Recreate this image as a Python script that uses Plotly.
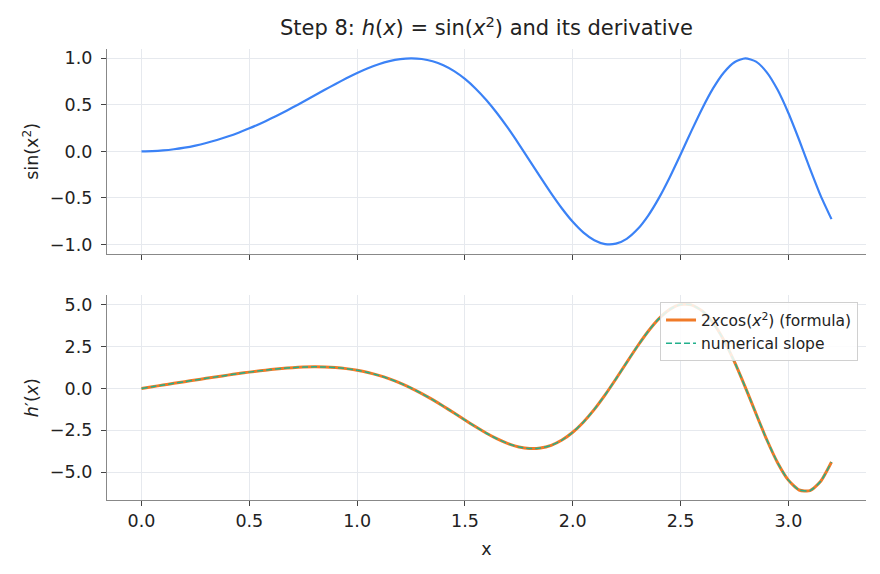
import plotly.graph_objects as go

x_vals = [0.00, 0.05, 0.10, 0.15, 0.20, 0.25, 0.30, 0.35, 0.40, 0.45,
          0.50, 0.55, 0.60, 0.65, 0.70, 0.75, 0.80, 0.85, 0.90, 0.95,
          1.00, 1.05, 1.10, 1.15, 1.20, 1.25, 1.30, 1.35, 1.40, 1.45,
          1.50, 1.55, 1.60, 1.65, 1.70, 1.75, 1.80, 1.85, 1.90, 1.95,
          2.00, 2.05, 2.10, 2.15, 2.20, 2.25, 2.30, 2.35, 2.40, 2.45,
          2.50, 2.55, 2.60, 2.65, 2.70, 2.75, 2.80, 2.85, 2.90, 2.95,
          3.00, 3.05, 3.10, 3.15, 3.20]

h_vals = [0.0000, 0.0025, 0.0100, 0.0225, 0.0400, 0.0625, 0.0899, 0.1222, 0.1593, 0.2011,
          0.2474, 0.2979, 0.3523, 0.4101, 0.4706, 0.5333, 0.5972, 0.6614, 0.7243, 0.7848,
          0.8415, 0.8923, 0.9356, 0.9693, 0.9915, 1.0000, 0.9929, 0.9685, 0.9252, 0.8620,
          0.7781, 0.6736, 0.5494, 0.4069, 0.2490, 0.0790, -0.0983, -0.2772, -0.4515, -0.6139,
          -0.7568, -0.8729, -0.9546, -0.9960, -0.9919, -0.9393, -0.8378, -0.6894, -0.4996, -0.2770,
          -0.0332, 0.2176, 0.4589, 0.6738, 0.8452, 0.9578, 0.9999, 0.9642, 0.8494, 0.6611,
          0.4121, 0.1220, -0.1842, -0.4774, -0.7279]

dh_formula = [0.000, 0.100, 0.200, 0.300, 0.400, 0.499, 0.598, 0.695, 0.790, 0.882,
              0.969, 1.050, 1.123, 1.186, 1.235, 1.269, 1.283, 1.275, 1.241, 1.178,
              1.081, 0.948, 0.777, 0.565, 0.313, 0.021, -0.309, -0.672, -1.063, -1.470,
              -1.885, -2.291, -2.674, -3.014, -3.293, -3.489, -3.583, -3.555, -3.391, -3.079,
              -2.615, -1.998, -1.251, -0.386, 0.560, 1.544, 2.512, 3.405, 4.158, 4.708,
              4.997, 4.978, 4.620, 3.916, 2.887, 1.581, 0.078, -1.512, -3.061, -4.427,
              -5.467, -6.054, -6.094, -5.536, -4.389]

dh_numeric = [0.000, 0.100, 0.200, 0.300, 0.400, 0.499, 0.598, 0.695, 0.790, 0.882,
              0.969, 1.050, 1.123, 1.186, 1.235, 1.269, 1.283, 1.275, 1.241, 1.178,
              1.081, 0.948, 0.777, 0.565, 0.313, 0.021, -0.309, -0.672, -1.063, -1.470,
              -1.885, -2.291, -2.674, -3.014, -3.293, -3.489, -3.583, -3.555, -3.391, -3.079,
              -2.615, -1.998, -1.251, -0.386, 0.560, 1.544, 2.512, 3.405, 4.158, 4.708,
              4.997, 4.978, 4.620, 3.916, 2.887, 1.581, 0.078, -1.512, -3.061, -4.427,
              -5.467, -6.054, -6.094, -5.536, -4.389]

x_ticks = [0.0, 0.5, 1.0, 1.5, 2.0, 2.5, 3.0]
x_tick_labels = ["0.0", "0.5", "1.0", "1.5", "2.0", "2.5", "3.0"]
top_ticks = [-1.0, -0.5, 0.0, 0.5, 1.0]
top_tick_labels = ["\u22121.0", "\u22120.5", "0.0", "0.5", "1.0"]
bot_ticks = [-5.0, -2.5, 0.0, 2.5, 5.0]
bot_tick_labels = ["\u22125.0", "\u22122.5", "0.0", "2.5", "5.0"]

FONT = "DejaVu Sans"
TXT = "#222222"
SPINE = "#888888"
GRID = "#e6e9ee"
TICKC = "#444444"
TICK_SIZE = 17.5

fig = go.Figure()
fig.add_trace(go.Scatter(x=x_vals, y=h_vals, mode="lines", line=dict(color="#3b82f6", width=2.2, shape="spline", smoothing=0.6),
                         showlegend=False, xaxis="x", yaxis="y"))
fig.add_trace(go.Scatter(x=x_vals, y=dh_formula, mode="lines",
                         name="2<i>x</i>cos(<i>x</i><sup>2</sup>) (formula)",
                         line=dict(color="#f07a28", width=3, shape="spline", smoothing=0.6),
                         xaxis="x2", yaxis="y2"))
fig.add_trace(go.Scatter(x=x_vals, y=dh_numeric, mode="lines", name="numerical slope",
                         line=dict(color="#22b08c", width=1.5, dash="6px,3px", shape="spline", smoothing=0.6),
                         xaxis="x2", yaxis="y2"))

common_x = dict(range=[-0.16, 3.36], tickvals=x_ticks, ticktext=x_tick_labels,
                showgrid=True, gridcolor=GRID, gridwidth=1, zeroline=False,
                showline=True, linecolor=SPINE, linewidth=1.3,
                ticks="outside", ticklen=5, tickwidth=1.3, tickcolor=TICKC,
                tickfont=dict(family=FONT, size=TICK_SIZE, color=TXT))
common_y = dict(showgrid=True, gridcolor=GRID, gridwidth=1, zeroline=False,
                showline=True, linecolor=SPINE, linewidth=1.3,
                ticks="outside", ticklen=5, tickwidth=1.3, tickcolor=TICKC,
                ticklabelstandoff=5,
                tickfont=dict(family=FONT, size=TICK_SIZE, color=TXT))

fig.update_layout(
    width=880, height=574,
    margin=dict(l=107, r=14, t=49, b=74),
    paper_bgcolor="white", plot_bgcolor="white",
    font=dict(family=FONT, size=TICK_SIZE, color=TXT),
    title=dict(text="Step 8: <i>h</i>(<i>x</i>) = sin(<i>x</i><sup>2</sup>) and its derivative",
               x=0.5, xref="paper", xanchor="center", y=1 - 28 / 574, yref="container", yanchor="middle",
               font=dict(family=FONT, size=21, color=TXT)),
    xaxis=dict(domain=[0, 1], anchor="y", showticklabels=False, **common_x),
    xaxis2=dict(domain=[0, 1], anchor="y2", matches="x",
                title=dict(text="x", font=dict(family=FONT, size=TICK_SIZE, color=TXT), standoff=12), **common_x),
    yaxis=dict(domain=[0.546, 1.0], anchor="x", range=[-1.1, 1.1], tickvals=top_ticks, ticktext=top_tick_labels,
               title=dict(text="sin(x<sup>2</sup>)", font=dict(family=FONT, size=TICK_SIZE, color=TXT), standoff=6),
               **common_y),
    yaxis2=dict(domain=[0.0, 0.454], anchor="x2", range=[-6.65, 5.55], tickvals=bot_ticks, ticktext=bot_tick_labels,
                title=dict(text="<i>h</i>\u2032(<i>x</i>)", font=dict(family=FONT, size=TICK_SIZE, color=TXT), standoff=6),
                **common_y),
    legend=dict(x=0.9895, xanchor="right", y=0.438, yanchor="top",
                bgcolor="rgba(255,255,255,0.85)", bordercolor="#d0d0d0", borderwidth=1,
                font=dict(family=FONT, size=15.5, color=TXT), tracegroupgap=0, itemwidth=30),
)

fig.write_html("out.html")
